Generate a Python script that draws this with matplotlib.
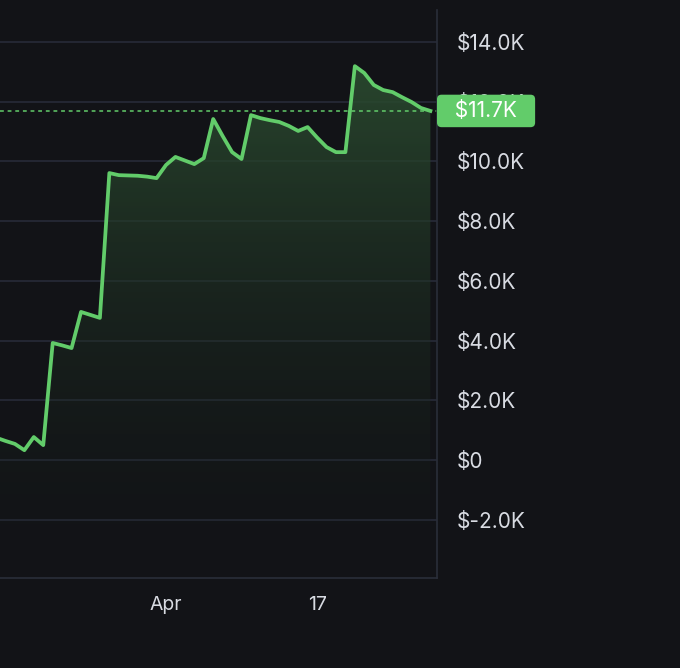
import matplotlib
matplotlib.use("Agg")
import matplotlib.pyplot as plt
import matplotlib.dates as mdates
import matplotlib.transforms as mtransforms
import numpy as np
import pandas as pd

plt.rcParams["font.family"] = ["Inter", "DejaVu Sans"]

# daily P&L values (thousands of $)
dates = pd.date_range("2024-03-14", "2024-04-29", freq="D")
pnl_k = [0.75, 0.64, 0.54, 0.33, 0.77, 0.50, 3.92, 3.84, 3.75, 4.96,
         4.86, 4.76, 9.61, 9.54, 9.53, 9.52, 9.49, 9.44, 9.88, 10.15,
         10.03, 9.91, 10.11, 11.42, 10.85, 10.31, 10.08, 11.55, 11.45, 11.38,
         11.32, 11.19, 11.02, 11.15, 10.80, 10.48, 10.31, 10.31, 13.19, 12.96,
         12.56, 12.39, 12.32, 12.15, 11.99, 11.79, 11.69]
y_ticks = [-2, 0, 2, 4, 6, 8, 10, 12, 14]
x_tick_dates = pd.to_datetime(["2024-04-01", "2024-04-17"])
x_tick_labels = ["Apr", "17"]

bg = "#121317"
grid_c = "#272b38"
green = "#62cc6a"
txt_c = "#d8dbe2"

fig = plt.figure(figsize=(6.8, 6.68), dpi=100, facecolor=bg)
ax = fig.add_axes([0.0, 1 - 578 / 668, 437 / 680, (578 - 10) / 668])
ax.set_facecolor(bg)

x = mdates.date2num(dates)
y = np.array(pnl_k)

ax.set_xlim(mdates.date2num(pd.Timestamp("2024-04-01")) - 17.58,
            mdates.date2num(pd.Timestamp("2024-04-01")) + 28.7)
ax.set_ylim(-3.95, 15.07)
ymin, ymax = ax.get_ylim()

# gradient fill under the line
poly = ax.fill_between(x, y, ymin, color="none", lw=0)
grad = np.linspace(0, 1, 256).reshape(-1, 1)
cmap = matplotlib.colors.LinearSegmentedColormap.from_list(
    "g", [(0.08, 0.10, 0.09, 0.0), (0.17, 0.30, 0.19, 0.9)])
im = ax.imshow(grad, cmap=cmap, aspect="auto", origin="lower",
               extent=[x[0], x[-1], ymin, y.max()], zorder=1)
path = poly.get_paths()[0]
im.set_clip_path(path, transform=ax.transData)

ax.plot(x, y, color=green, lw=2.7, zorder=3, solid_joinstyle="round")

last = pnl_k[-1]
ax.axhline(last, color=green, lw=1.1, ls=(0, (2.5, 2.5)), zorder=2)

ax.set_yticks(y_ticks)
ax.set_yticklabels(["$%.1fK" % v if v != 0 else "$0" for v in y_ticks])
ax.yaxis.tick_right()
ax.set_xticks(mdates.date2num(x_tick_dates))
ax.set_xticklabels(x_tick_labels)
ax.tick_params(axis="y", length=0, pad=14, labelsize=15, colors=txt_c)
ax.tick_params(axis="x", length=0, pad=13, labelsize=14, colors=txt_c)
ax.grid(axis="y", color=grid_c, lw=1.2)
ax.set_axisbelow(True)

for s in ["top", "left"]:
    ax.spines[s].set_visible(False)
for s in ["right", "bottom"]:
    ax.spines[s].set_color("#2a2e39")
    ax.spines[s].set_linewidth(1.2)

# last value tag on the price axis
tag_fs = 15
tag_pad = 0.3
trans = mtransforms.blended_transform_factory(ax.transAxes, ax.transData)
ax.annotate("  $%.1fK  " % last, xy=(1.0, last), xycoords=trans,
            xytext=(tag_pad * tag_fs, 0), textcoords="offset points",
            ha="left", va="center", color="white", fontsize=tag_fs, zorder=10,
            annotation_clip=False,
            bbox=dict(boxstyle="round,pad=%.2f,rounding_size=0.22" % tag_pad,
                      fc=green, ec="none"))

fig.savefig("out.png", dpi=100, facecolor=bg)
